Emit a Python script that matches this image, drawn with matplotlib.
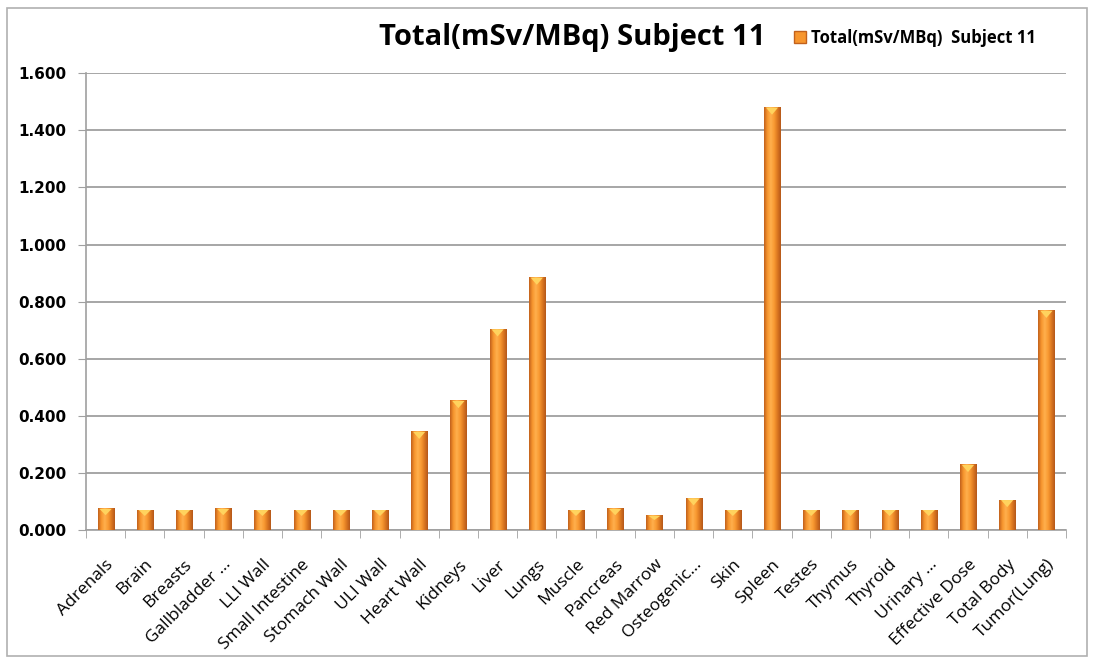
import numpy as np
import matplotlib
matplotlib.use("Agg")
import matplotlib.pyplot as plt
from matplotlib.patches import Patch, Rectangle
from matplotlib.colors import LinearSegmentedColormap

# values (mSv/MBq)
organs = ["Adrenals", "Brain", "Breasts", "Gallbladder ...", "LLI Wall",
          "Small Intestine", "Stomach Wall", "ULI Wall", "Heart Wall", "Kidneys",
          "Liver", "Lungs", "Muscle", "Pancreas", "Red Marrow", "Osteogenic...",
          "Skin", "Spleen", "Testes", "Thymus", "Thyroid", "Urinary ...",
          "Effective Dose", "Total Body", "Tumor(Lung)"]
dose = [0.074, 0.070, 0.070, 0.074, 0.070,
        0.070, 0.070, 0.070, 0.344, 0.452,
        0.703, 0.884, 0.070, 0.074, 0.050, 0.111,
        0.070, 1.480, 0.070, 0.070, 0.070, 0.070,
        0.228, 0.105, 0.768]
series_name = "Total(mSv/MBq)  Subject 11"
title = "Total(mSv/MBq) Subject 11"
y_ticks = [0.0, 0.2, 0.4, 0.6, 0.8, 1.0, 1.2, 1.4, 1.6]

fig = plt.figure(figsize=(10.94, 6.64), dpi=100)
fig.patch.set_facecolor("white")
fig.add_artist(Rectangle((0.006, 0.012), 0.988, 0.976, transform=fig.transFigure,
                         fill=False, edgecolor="#b0b0b0", linewidth=1.2))

ax = fig.add_axes([0.0786, 0.2018, 0.8958, 0.6878])
x = np.arange(len(organs))
bars = ax.bar(x, dose, width=0.41, color="#F7962E", zorder=3)

# cylinder-like shading on each bar
shade = LinearSegmentedColormap.from_list(
    "cyl", ["#C2611C", "#F7962E", "#FFB04D", "#F99A32", "#DB7720", "#B5581A"])
grad = np.linspace(0, 1, 64).reshape(1, -1)
for b in bars:
    x0, w, h = b.get_x(), b.get_width(), b.get_height()
    ax.imshow(grad, cmap=shade, aspect="auto", extent=(x0, x0 + w, 0, h),
              zorder=4, interpolation="bilinear")
    cap = min(0.025, h * 0.3)
    ax.fill([x0 + w * 0.12, x0 + w * 0.88, x0 + w * 0.5],
            [h, h, h - cap], color="#FFD35E", zorder=5, lw=0)
    b.set_visible(False)

ax.set_xlim(-0.5, len(organs) - 0.5)
ax.set_ylim(0, 1.6)
ax.set_yticks(y_ticks)
ax.set_yticklabels([f"{v:.3f}" for v in y_ticks], fontsize=11, fontweight="bold",
                   family="DejaVu Sans")
ax.yaxis.grid(True, color="#a6a6a6", linewidth=1.4, zorder=0)

ax.set_xticks(x)
ax.set_xticklabels(organs, rotation=45, ha="right", rotation_mode="anchor",
                   fontsize=12.5, family="Open Sans")
ax.set_xticks(np.arange(-0.5, len(organs)), minor=True)
ax.tick_params(axis="x", which="major", length=0, pad=19)
ax.tick_params(axis="x", which="minor", length=6, color="#a0a0a0", direction="out")
ax.tick_params(axis="y", length=6, color="#a0a0a0", direction="out", pad=8)

for s in ["top", "right"]:
    ax.spines[s].set_visible(False)
for s in ["left", "bottom"]:
    ax.spines[s].set_color("#a0a0a0")
    ax.spines[s].set_linewidth(1.2)

fig.text(0.523, 0.943, title, ha="center", va="center", fontsize=21,
         fontweight="bold", family="Open Sans")
fig.legend(handles=[Patch(facecolor="#F7962E", edgecolor="#C2611C")],
           labels=[series_name], loc="center left",
           bbox_to_anchor=(0.712, 0.943), frameon=False, handlelength=0.7,
           handleheight=0.7, handletextpad=0.3,
           prop={"size": 12, "weight": "bold", "family": "Open Sans"})

fig.savefig("out.png", dpi=100)
